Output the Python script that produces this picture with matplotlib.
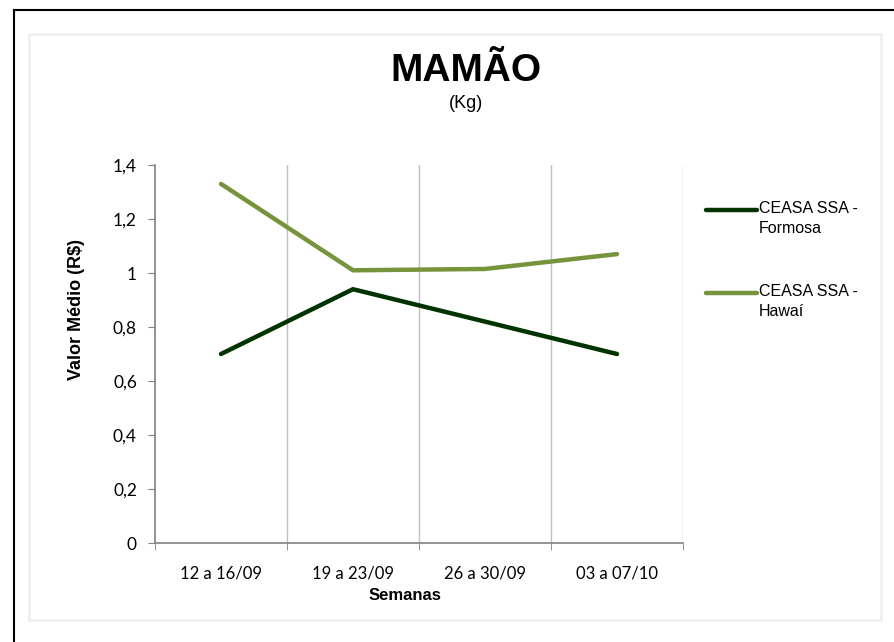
import matplotlib
matplotlib.use('Agg')
import matplotlib.pyplot as plt
from matplotlib.lines import Line2D
from matplotlib.patches import Rectangle
from matplotlib.ticker import FuncFormatter, MultipleLocator

semanas = ["12 a 16/09", "19 a 23/09", "26 a 30/09", "03 a 07/10"]
formosa = [0.70, 0.94, 0.82, 0.70]
hawai = [1.33, 1.01, 1.015, 1.07]
series_nomes = ["CEASA SSA -\nFormosa", "CEASA SSA -\nHawaí"]

COR_FORMOSA = '#003300'
COR_HAWAI = '#77933C'
ARIAL_NARROW = ['Liberation Sans Narrow', 'Liberation Sans']

fig = plt.figure(figsize=(8.95, 6.42), dpi=100)
W, H = 895, 642

# outer black frame (top and left only) and inner light frame
fig.add_artist(Line2D([14 / W, 1], [1 - 10 / H, 1 - 10 / H], color='black', lw=1.5))
fig.add_artist(Line2D([14 / W, 14 / W], [0, 1 - 10 / H], color='black', lw=1.5))
fig.add_artist(Rectangle((29 / W, 1 - 620 / H), (881 - 29) / W, (620 - 34) / H,
                         fill=False, edgecolor='#eeeeee', lw=1.8))

ax = fig.add_axes([155 / W, 1 - 543 / H, (683 - 155) / W, (543 - 165) / H])

x = list(range(len(semanas)))
cores = [COR_FORMOSA, COR_HAWAI]
for serie, cor in zip([formosa, hawai], cores):
    ax.plot(x, serie, color=cor, lw=3.2, solid_capstyle='round', solid_joinstyle='miter')

ax.set_xlim(-0.5, len(semanas) - 0.5)
ax.set_ylim(0, 1.4)
ax.yaxis.set_major_locator(MultipleLocator(0.2))
ax.yaxis.set_major_formatter(FuncFormatter(
    lambda v, p: '0' if abs(v) < 1e-9 else ('1' if abs(v - 1) < 1e-9 else f'{v:.1f}'.replace('.', ','))))

# vertical gridlines at category boundaries
for b in range(len(semanas)):
    ax.axvline(b + 0.5, color='#c0c0c0', lw=1, zorder=0)

ax.set_xticks(x)
ax.set_xticklabels(semanas, family='Lato', fontsize=12)
ax.set_xticks([b - 0.5 for b in range(len(semanas) + 1)], minor=True)
ax.tick_params(axis='x', which='major', length=0, pad=16)
ax.tick_params(axis='x', which='minor', length=5, color='#808080', direction='out')
ax.tick_params(axis='y', length=5, color='#808080', direction='out', pad=8)
for lab in ax.get_yticklabels():
    lab.set_family('Lato')
    lab.set_fontsize(12.5)

for s in ['top', 'right']:
    ax.spines[s].set_visible(False)
for s in ['left', 'bottom']:
    ax.spines[s].set_color('#808080')
    ax.spines[s].set_linewidth(1.2)

ax.set_xlabel('Semanas', fontsize=12, fontweight='bold', family=ARIAL_NARROW)
ax.xaxis.set_label_coords((405 - 155) / 528, (543 - 596) / 378)
ax.xaxis.label.set_va('center')
ax.set_ylabel('Valor Médio (R$)', fontsize=13, fontweight='bold', family=ARIAL_NARROW)
ax.yaxis.set_label_coords((76 - 155) / 528, (543 - 310) / 378)
ax.yaxis.label.set_va('center')

fig.text(466 / W, 1 - 71 / H, 'MAMÃO', ha='center', va='center', fontsize=28,
         fontweight='bold', family=ARIAL_NARROW)
fig.text(466 / W, 1 - 104 / H, '(Kg)', ha='center', va='center', fontsize=13,
         family=ARIAL_NARROW)

# legend: handle aligned with the first text line, as in the original
for i, (nome, cor) in enumerate(zip(series_nomes, cores)):
    yl = 1 - (210 + i * 83) / H
    fig.add_artist(Line2D([706 / W, 757 / W], [yl, yl], color=cor, lw=3.2,
                          solid_capstyle='round'))
    fig.text(759 / W, yl + 9 / H, nome, ha='left', va='top', fontsize=11.5,
             family='Liberation Sans', linespacing=1.45)

fig.savefig('out.png', dpi=100)
